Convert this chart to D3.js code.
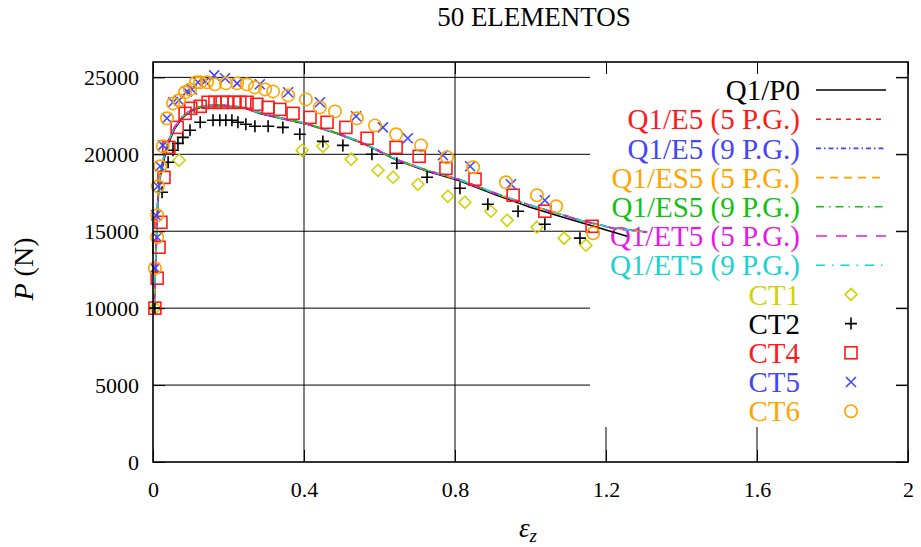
<!DOCTYPE html>
<html><head><meta charset="utf-8">
<script src="https://cdn.jsdelivr.net/npm/d3@7"></script>
<style>
body{margin:0;background:#fff}
text{font-family:"Liberation Serif","Times New Roman",serif}
</style>
</head><body>
<svg id="c" width="921" height="547"></svg>
<script>
// ---------- data ----------
const xTicks = [0, 0.4, 0.8, 1.2, 1.6, 2];
const xTickLabels = ["0", "0.4", "0.8", "1.2", "1.6", "2"];
const yTicks = [0, 5000, 10000, 15000, 20000, 25000];
const yTickLabels = ["0", "5000", "10000", "15000", "20000", "25000"];

// Q1/P0 (solid black)
const p0X = [0.003, 0.013, 0.02, 0.032, 0.042, 0.058, 0.077, 0.098, 0.125, 0.164, 0.204, 0.244, 0.283, 0.336, 0.408, 0.487, 0.556, 0.646, 0.726, 0.808, 0.911, 0.999, 1.086, 1.176, 1.256];
const p0Y = [10000, 17000, 18640, 19940, 20780, 21690, 22340, 22790, 23050, 23180, 23120, 22990, 22660, 22340, 21950, 21360, 20710, 19610, 18900, 18310, 17340, 16560, 15910, 15260, 14680];

// enriched elements (all nearly coincident)
const encX = [0.003, 0.013, 0.02, 0.032, 0.042, 0.058, 0.077, 0.098, 0.125, 0.164, 0.204, 0.244, 0.283, 0.336, 0.408, 0.487, 0.556, 0.646, 0.726, 0.808, 0.911, 0.999, 1.086, 1.131, 1.219, 1.309];
const e5g5Y  = [10000, 17300, 18900, 20150, 20950, 21800, 22420, 22850, 23100, 23220, 23160, 23020, 22700, 22380, 21980, 21390, 20740, 19650, 18950, 18380, 17420, 16680, 16050, 15710, 15190, 14940];
const e5g9Y  = [10000, 17320, 18920, 20160, 20960, 21810, 22430, 22860, 23110, 23230, 23170, 23030, 22710, 22390, 21990, 21400, 20750, 19660, 18960, 18400, 17440, 16700, 16070, 15730, 15210, 14960];
const es5g5Y = [10000, 17280, 18880, 20140, 20940, 21790, 22410, 22840, 23090, 23210, 23150, 23010, 22690, 22370, 21970, 21380, 20730, 19640, 18940, 18370, 17410, 16670, 16040, 15700, 15180, 14930];
const es5g9Y = [10000, 17310, 18910, 20150, 20950, 21800, 22420, 22850, 23100, 23220, 23160, 23020, 22700, 22380, 21980, 21390, 20740, 19660, 18960, 18390, 17430, 16690, 16060, 15720, 15200, 14950];
const et5g5Y = [10000, 17290, 18890, 20140, 20940, 21790, 22410, 22840, 23090, 23210, 23150, 23010, 22690, 22370, 21970, 21380, 20730, 19650, 18950, 18380, 17420, 16680, 16050, 15710, 15190, 14940];
const et5g9Y = [10000, 17300, 18900, 20150, 20950, 21800, 22420, 22850, 23100, 23220, 23160, 23020, 22700, 22380, 21980, 21390, 20740, 19650, 18950, 18390, 17430, 16690, 16060, 15720, 15200, 14950];

// experimental data
const ct1X = [0.005, 0.069, 0.395, 0.45, 0.525, 0.596, 0.636, 0.702, 0.781, 0.826, 0.895, 0.938, 1.017, 1.089, 1.147];
const ct1Y = [10000, 19610, 20260, 20520, 19680, 18960, 18510, 18050, 17270, 16880, 16300, 15710, 15260, 14550, 14090];

const ct2X = [0.005, 0.024, 0.04, 0.053, 0.066, 0.079, 0.098, 0.125, 0.159, 0.177, 0.193, 0.209, 0.225, 0.246, 0.27, 0.305, 0.344, 0.389, 0.45, 0.503, 0.58, 0.646, 0.726, 0.813, 0.887, 0.967, 1.038, 1.131];
const ct2Y = [10000, 17530, 19480, 20260, 20710, 21100, 21560, 22080, 22210, 22210, 22210, 22210, 22080, 21950, 21820, 21820, 21750, 21300, 20840, 20580, 20000, 19420, 18510, 17790, 16750, 16300, 15450, 14550];

const ct4X = [0.005, 0.011, 0.016, 0.021, 0.029, 0.042, 0.064, 0.085, 0.10, 0.125, 0.146, 0.164, 0.183, 0.196, 0.215, 0.23, 0.249, 0.275, 0.305, 0.336, 0.371, 0.416, 0.461, 0.511, 0.567, 0.644, 0.705, 0.776, 0.853, 0.954, 1.038, 1.163];
const ct4Y = [10000, 11950, 13960, 15580, 18500, 20450, 21750, 22660, 22990, 23120, 23380, 23380, 23380, 23380, 23380, 23380, 23380, 23250, 23050, 22920, 22660, 22400, 22080, 21750, 21040, 20450, 19870, 19090, 18380, 17340, 16300, 15320];

const ct5X = [0.005, 0.011, 0.008, 0.013, 0.019, 0.026, 0.037, 0.053, 0.069, 0.09, 0.103, 0.119, 0.138, 0.162, 0.191, 0.223, 0.283, 0.358, 0.442, 0.538, 0.609, 0.675, 0.768, 0.84, 0.948, 1.038];
const ct5Y = [12600, 14610, 16040, 17920, 19220, 20580, 22340, 23380, 23510, 24090, 24220, 24680, 24740, 25130, 24940, 24610, 24550, 24030, 23380, 22470, 21750, 21040, 19940, 19220, 18050, 17010];

const ct6X = [0.005, 0.011, 0.011, 0.013, 0.019, 0.026, 0.037, 0.053, 0.069, 0.085, 0.098, 0.114, 0.125, 0.143, 0.164, 0.193, 0.223, 0.249, 0.27, 0.297, 0.318, 0.358, 0.405, 0.442, 0.482, 0.54, 0.588, 0.644, 0.71, 0.779, 0.848, 0.935, 1.017, 1.068, 1.166];
const ct6Y = [12600, 14610, 16040, 17920, 19220, 20520, 22340, 23310, 23510, 24030, 24220, 24680, 24680, 24680, 24550, 24610, 24610, 24550, 24350, 24220, 24090, 23830, 23570, 23050, 22790, 22340, 21880, 21300, 20580, 19810, 19160, 18180, 17340, 16620, 14870];

const curveNames = ["Q1/P0", "Q1/E5 (5 P.G.)", "Q1/E5 (9 P.G.)", "Q1/ES5 (5 P.G.)", "Q1/ES5 (9 P.G.)", "Q1/ET5 (5 P.G.)", "Q1/ET5 (9 P.G.)"];
const pointNames = ["CT1", "CT2", "CT4", "CT5", "CT6"];

// ---------- styling ----------
const C = {black:"#000000", red:"#ff1a1a", blue:"#4444ff", orange:"#ffa500", green:"#12c212", magenta:"#e619e6", cyan:"#19d2d2", yellow:"#d2d200"};
const curves = [
  {name:curveNames[0], xs:p0X, ys:p0Y, color:C.black, dash:null},
  {name:curveNames[1], xs:encX, ys:e5g5Y, color:C.red, dash:"5,5"},
  {name:curveNames[2], xs:encX, ys:e5g9Y, color:C.blue, dash:"5,3,1.5,3"},
  {name:curveNames[3], xs:encX, ys:es5g5Y, color:C.orange, dash:"8,6"},
  {name:curveNames[4], xs:encX, ys:es5g9Y, color:C.green, dash:"8,5,1.5,5"},
  {name:curveNames[5], xs:encX, ys:et5g5Y, color:C.magenta, dash:"11,9"},
  {name:curveNames[6], xs:encX, ys:et5g9Y, color:C.cyan, dash:"9,7,1.5,7"}
];
const points = [
  {name:pointNames[0], xs:ct1X, ys:ct1Y, color:C.yellow, sym:"diamond"},
  {name:pointNames[1], xs:ct2X, ys:ct2Y, color:C.black, sym:"plus"},
  {name:pointNames[2], xs:ct4X, ys:ct4Y, color:C.red, sym:"square"},
  {name:pointNames[3], xs:ct5X, ys:ct5Y, color:C.blue, sym:"cross"},
  {name:pointNames[4], xs:ct6X, ys:ct6Y, color:C.orange, sym:"circle"}
];

// ---------- chart ----------
const svg = d3.select("#c");
const L = 153, R = 908, T = 62, B = 462;
const x = d3.scaleLinear().domain([0, 2]).range([L, R]);
const y = d3.scaleLinear().domain([0, 26000]).range([B, T]);

svg.append("rect").attr("width",921).attr("height",547).attr("fill","#fff");

// grid
const grid = svg.append("g");
grid.selectAll("line.h").data(yTicks.slice(1)).join("line")
  .attr("x1", L).attr("x2", R).attr("y1", d => y(d)).attr("y2", d => y(d))
  .attr("stroke", "#000").attr("stroke-width", 1);
grid.selectAll("line.v").data(xTicks.slice(1, -1)).join("line")
  .attr("x1", d => x(d)).attr("x2", d => x(d)).attr("y1", T).attr("y2", B)
  .attr("stroke", "#000").attr("stroke-width", 1);

// legend box (opaque)
const legX0 = 590, legY0 = 63, legX1 = 896, legY1 = 427;
svg.append("rect").attr("x", legX0).attr("y", legY0).attr("width", legX1 - legX0).attr("height", legY1 - legY0).attr("fill", "#fff");

// symbols
function drawSym(g, sym, cx, cy, color) {
  const s = 6;
  if (sym === "diamond") {
    g.append("path").attr("d", `M${cx},${cy-s}L${cx+s},${cy}L${cx},${cy+s}L${cx-s},${cy}Z`)
      .attr("fill","none").attr("stroke",color).attr("stroke-width",1.6);
  } else if (sym === "plus") {
    g.append("path").attr("d", `M${cx-s},${cy}H${cx+s}M${cx},${cy-s}V${cy+s}`)
      .attr("stroke",color).attr("stroke-width",1.6);
  } else if (sym === "square") {
    g.append("rect").attr("x",cx-s).attr("y",cy-s).attr("width",2*s).attr("height",2*s)
      .attr("fill","none").attr("stroke",color).attr("stroke-width",1.6);
  } else if (sym === "cross") {
    const k = 5;
    g.append("path").attr("d", `M${cx-k},${cy-k}L${cx+k},${cy+k}M${cx-k},${cy+k}L${cx+k},${cy-k}`)
      .attr("stroke",color).attr("stroke-width",1.6);
  } else if (sym === "circle") {
    g.append("circle").attr("cx",cx).attr("cy",cy).attr("r",6.2)
      .attr("fill","none").attr("stroke",color).attr("stroke-width",1.6);
  }
}

// legend content
const leg = svg.append("g");
const rowY0 = 90, rowStep = 29.2, txtX = 800, smpX0 = 816, smpX1 = 886, symX = 851;
curves.forEach((c, i) => {
  const ry = rowY0 + i * rowStep;
  leg.append("text").attr("x", txtX).attr("y", ry).attr("dy", "0.35em")
    .attr("text-anchor", "end").attr("font-size", 29).attr("fill", c.color).text(c.name);
  leg.append("line").attr("x1", smpX0).attr("x2", smpX1).attr("y1", ry).attr("y2", ry)
    .attr("stroke", c.color).attr("stroke-width", 1.6).attr("stroke-dasharray", c.dash);
});
points.forEach((p, j) => {
  const ry = rowY0 + (curves.length + j) * rowStep;
  leg.append("text").attr("x", txtX).attr("y", ry).attr("dy", "0.35em")
    .attr("text-anchor", "end").attr("font-size", 29).attr("fill", p.color).text(p.name);
  drawSym(leg, p.sym, symX, ry, p.color);
});

// curves
const plot = svg.append("g");
curves.forEach(c => {
  const pts = c.xs.map((v, i) => [v, c.ys[i]]);
  plot.append("path").datum(pts)
    .attr("d", d3.line().x(d => x(d[0])).y(d => y(d[1])))
    .attr("fill", "none").attr("stroke", c.color).attr("stroke-width", 1.6)
    .attr("stroke-dasharray", c.dash);
});

// points
points.forEach(p => {
  const g = plot.append("g");
  p.xs.forEach((v, i) => drawSym(g, p.sym, x(v), y(p.ys[i]), p.color));
});

// axes with inward ticks on all sides
const tk = 12;
const ax = svg.append("g").attr("transform", `translate(0,${B})`)
  .call(d3.axisBottom(x).tickValues(xTicks).tickFormat((d, i) => xTickLabels[i]).tickSizeInner(-tk).tickSizeOuter(0).tickPadding(19));
const ay = svg.append("g").attr("transform", `translate(${L},0)`)
  .call(d3.axisLeft(y).tickValues(yTicks).tickFormat((d, i) => yTickLabels[i]).tickSizeInner(-tk).tickSizeOuter(0).tickPadding(14));
const axT = svg.append("g").attr("transform", `translate(0,${T})`)
  .call(d3.axisTop(x).tickValues(xTicks).tickFormat("").tickSizeInner(-tk).tickSizeOuter(0));
const ayR = svg.append("g").attr("transform", `translate(${R},0)`)
  .call(d3.axisRight(y).tickValues(yTicks).tickFormat("").tickSizeInner(-tk).tickSizeOuter(0));
[ax, ay, axT, ayR].forEach(g => {
  g.select(".domain").remove();
  g.selectAll(".tick line").attr("stroke", "#000").attr("stroke-width", 1);
  g.selectAll(".tick text").attr("font-family", "Liberation Serif, serif").attr("font-size", 22).attr("fill", "#000");
});

// border
svg.append("rect").attr("x", L).attr("y", T).attr("width", R - L).attr("height", B - T)
  .attr("fill", "none").attr("stroke", "#000").attr("stroke-width", 1.6);

// titles
svg.append("text").attr("x", 534).attr("y", 26).attr("text-anchor", "middle")
  .attr("font-size", 27).text("50 ELEMENTOS");

const xl = svg.append("text").attr("x", 528).attr("y", 537).attr("text-anchor", "middle").attr("font-size", 27);
xl.append("tspan").attr("font-style", "italic").text("ε");
xl.append("tspan").attr("font-style", "italic").attr("font-size", 19).attr("dy", 5).text("z");

const yl = svg.append("text").attr("transform", "translate(33,269) rotate(-90)").attr("text-anchor", "middle").attr("font-size", 28);
yl.append("tspan").attr("font-style", "italic").text("P");
yl.append("tspan").text(" (N)");
</script>
</body></html>
